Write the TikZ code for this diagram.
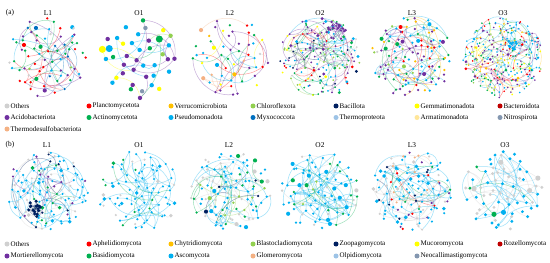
\documentclass[tikz,border=0pt]{standalone}
\usepackage{fontspec}
\setmainfont{Liberation Serif}
\pgfdeclarelayer{back}
\pgfdeclarelayer{edges}
\pgfsetlayers{back,edges,main}

\definecolor{cGray}{HTML}{D0D0D0}
\definecolor{cRed}{HTML}{FF0000}
\definecolor{cOrange}{HTML}{FFC000}
\definecolor{cLime}{HTML}{92D050}
\definecolor{cPurple}{HTML}{7030A0}
\definecolor{cGreen}{HTML}{00B050}
\definecolor{cSky}{HTML}{00B0F0}
\definecolor{cBlue}{HTML}{0070C0}
\definecolor{cPeach}{HTML}{F4B183}
\definecolor{cNavy}{HTML}{002060}
\definecolor{cYellow}{HTML}{FFFF00}
\definecolor{cDarkred}{HTML}{C00000}
\definecolor{cPale}{HTML}{9DC3E6}
\definecolor{cTan}{HTML}{FFE699}
\definecolor{cSlate}{HTML}{8497B0}

\tikzset{
  dot/.style={circle,inner sep=0pt,minimum size=#1,draw=none},
  link/.style={line width=0.75pt,opacity=0.38},
  keydot/.style={circle,inner sep=0pt,minimum size=2.5mm,draw=none},
  keytext/.style={anchor=west,inner sep=0pt,font=\fontsize{10}{12}\selectfont},
  title/.style={font=\fontsize{10.5}{12}\selectfont}
}

% #1 name, #2/#3 centre, #4 nodes, #5 colour list, #6 links, #7 tries, #8 size (mm)
\newcommand{\net}[8]{%
  \begin{scope}[shift={(#2,#3)}]
    \foreach \i in {1,...,#4}{
      \pgfmathsetmacro{\rr}{min(41,40*sqrt((\i-0.5)/#4)+1.5*rand)}
      \pgfmathsetmacro{\gg}{\i*0.381966}
      \pgfmathsetmacro{\aa}{360*(\gg-floor(\gg))+12*rand}
      \pgfmathsetmacro{\px}{\rr*cos(\aa)}
      \pgfmathsetmacro{\py}{\rr*sin(\aa)}
      \pgfmathsetmacro{\ss}{rnd<0.9 ? #8 : 1.6*#8}
      \pgfmathrandomitem{\cc}{#5}
      \expandafter\xdef\csname px#1-\i\endcsname{\px}
      \expandafter\xdef\csname py#1-\i\endcsname{\py}
      \expandafter\xdef\csname pc#1-\i\endcsname{\cc}
      \node[dot=\ss mm,fill=\cc] (#1-\i) at (\px,\py) {};
    }
  \end{scope}
  \begin{pgfonlayer}{edges}
    \foreach \j in {1,...,#6}{
      \pgfmathrandominteger{\ea}{1}{#4}
      \xdef\best{0}\xdef\bd{9999}
      \foreach \t in {1,...,#7}{
        \pgfmathrandominteger{\eb}{1}{#4}
        \ifnum\eb=\ea\else
          \edef\xa{\csname px#1-\ea\endcsname}\edef\xb{\csname px#1-\eb\endcsname}
          \edef\ya{\csname py#1-\ea\endcsname}\edef\yb{\csname py#1-\eb\endcsname}
          \pgfmathsetmacro{\dd}{veclen((\xa)-(\xb),(\ya)-(\yb))}
          \ifdim\dd pt<\bd pt\xdef\best{\eb}\xdef\bd{\dd}\fi
        \fi
      }
      \ifnum\best>0
        \pgfmathsetmacro{\bb}{(rnd<0.5?1:-1)*(25+25*rnd)}
        \edef\ec{\csname pc#1-\ea\endcsname}
        \draw[link,draw=\ec] (#1-\ea) to[bend left=\bb] (#1-\best);
      \fi
    }
  \end{pgfonlayer}
}

% dense module: #1 name, #2/#3 centre, #4 nodes, #5 colour, #6 radius, #7 links, #8 size
\newcommand{\hub}[8]{%
  \begin{scope}[shift={(#2,#3)}]
    \foreach \i in {1,...,#4}{
      \pgfmathsetmacro{\rr}{#6*sqrt(rnd)}
      \pgfmathsetmacro{\aa}{360*rnd}
      \node[dot=#8 mm,fill=#5] (#1-h\i) at (\aa:\rr) {};
    }
  \end{scope}
  \begin{pgfonlayer}{edges}
    \foreach \j in {1,...,#7}{
      \pgfmathrandominteger{\ea}{1}{#4}
      \pgfmathrandominteger{\eb}{1}{#4}
      \ifnum\ea=\eb\else
        \draw[link,draw=#5] (#1-h\ea) to[bend left=15] (#1-h\eb);
      \fi
    }
  \end{pgfonlayer}
}

\pgfmathdeclarerandomlist{aL1}{{cPurple}{cPurple}{cPurple}{cPurple}{cPurple}{cSky}{cSky}{cSky}{cSky}{cGreen}{cGreen}{cGreen}{cRed}{cRed}{cBlue}{cGray}{cLime}}
\pgfmathdeclarerandomlist{aO1}{{cPurple}{cPurple}{cPurple}{cPurple}{cSky}{cSky}{cSky}{cSky}{cSky}{cGreen}{cGreen}{cGreen}{cGreen}{cLime}{cLime}{cGray}{cGray}{cYellow}{cYellow}{cRed}{cSlate}}
\pgfmathdeclarerandomlist{aL2}{{cPurple}{cPurple}{cPurple}{cPurple}{cSky}{cSky}{cSky}{cSky}{cGreen}{cGreen}{cGreen}{cGray}{cYellow}{cRed}{cOrange}{cPeach}}
\pgfmathdeclarerandomlist{aO2}{{cPurple}{cPurple}{cPurple}{cSky}{cSky}{cSky}{cSky}{cGreen}{cGreen}{cGreen}{cLime}{cLime}{cYellow}{cRed}{cGray}{cNavy}}
\pgfmathdeclarerandomlist{aL3}{{cPurple}{cPurple}{cPurple}{cPurple}{cPurple}{cSky}{cSky}{cSky}{cSky}{cGreen}{cGreen}{cRed}{cGray}{cOrange}{cLime}}
\pgfmathdeclarerandomlist{aO3}{{cPurple}{cPurple}{cPurple}{cPurple}{cSky}{cSky}{cSky}{cSky}{cGreen}{cGreen}{cLime}{cRed}{cYellow}{cGray}{cOrange}}
\pgfmathdeclarerandomlist{bL1}{{cSky}{cSky}{cSky}{cSky}{cSky}{cSky}{cSky}{cSky}{cGray}{cGray}{cGray}{cNavy}{cGreen}{cPurple}}
\pgfmathdeclarerandomlist{bO1}{{cSky}{cSky}{cSky}{cSky}{cSky}{cSky}{cSky}{cSky}{cSky}{cSky}{cGray}{cGray}{cGreen}}
\pgfmathdeclarerandomlist{bL2}{{cSky}{cSky}{cSky}{cSky}{cSky}{cSky}{cGray}{cGray}{cGray}{cGray}{cGreen}{cGreen}{cNavy}{cLime}}
\pgfmathdeclarerandomlist{bO2}{{cSky}{cSky}{cSky}{cSky}{cSky}{cSky}{cSky}{cSky}{cGray}{cGray}{cGray}{cLime}{cGreen}}
\pgfmathdeclarerandomlist{bL3}{{cSky}{cSky}{cSky}{cSky}{cSky}{cSky}{cSky}{cGray}{cGray}{cGray}{cGray}{cNavy}{cGreen}{cPurple}{cRed}{cPeach}}
\pgfmathdeclarerandomlist{bO3}{{cSky}{cSky}{cSky}{cSky}{cSky}{cGray}{cGray}{cGray}{cGray}{cGray}{cGreen}}

\begin{document}
\begin{tikzpicture}[x=0.5mm,y=-0.5mm]
  \begin{pgfonlayer}{back}
    \fill[white] (0,0) rectangle (550,263);
  \end{pgfonlayer}
  \useasboundingbox (0,0) rectangle (550,263);
  \pgfmathsetseed{11}

  \node[title] (taga) at (10,13) {(a)};
  \node[title] (taL1) at (48,13) {L1};
  \node[title] (taO1) at (139,13) {O1};
  \node[title] (taL2) at (230,13) {L2};
  \node[title] (taO2) at (320,13) {O2};
  \node[title] (taL3) at (412,13) {L3};
  \node[title] (taO3) at (503,13) {O3};

  \net{aL1}{48}{57}{75}{aL1}{45}{1}{1.3}
  \net{aO1}{139}{57}{40}{aO1}{24}{1}{2.2}
  \net{aL2}{230}{57}{55}{aL2}{32}{1}{1.3}
  \net{aO2}{320}{57}{170}{aO2}{95}{3}{1.0}
  \hub{aO2}{336}{30}{22}{cPurple}{10}{35}{1.3}
  \net{aL3}{412}{57}{120}{aL3}{70}{2}{1.25}
  \net{aO3}{503}{57}{280}{aO3}{140}{5}{0.9}
  \hub{aO3}{512}{46}{10}{cSky}{6}{15}{1.4}

  \foreach \x/\y/\c/\t in {7/106/cGray/Others, 89/106/cRed/Planctomycetota,
    171/106/cOrange/Verrucomicrobiota, 253/106/cLime/Chloroflexota,
    336/106/cNavy/Bacillota, 417/106/cYellow/Gemmatimonadota,
    500/106/cDarkred/Bacteroidota,
    7/117.5/cPurple/Acidobacteriota, 89/117.5/cGreen/Actinomycetota,
    171/117.5/cSky/Pseudomonadota, 253/117.5/cBlue/Myxococcota,
    336/117.5/cPale/Thermoproteota, 417/117.5/cTan/Armatimonadota,
    500/117.5/cSlate/Nitrospirota,
    7/129/cPeach/Thermodesulfobacteriota}{
    \node[keydot,fill=\c] (ka-\t) at (\x,\y) {};
    \node[keytext] at (\x+3.5,\y) {\t};
  }

  \node[title] (tagb) at (10,145) {(b)};
  \node[title] (tbL1) at (47,145) {L1};
  \node[title] (tbO1) at (139,145) {O1};
  \node[title] (tbL2) at (229,145) {L2};
  \node[title] (tbO2) at (320,145) {O2};
  \node[title] (tbL3) at (412,145) {L3};
  \node[title] (tbO3) at (505,145) {O3};

  \net{bL1}{48}{191}{125}{bL1}{80}{2}{1.2}
  \hub{bL1}{34}{208}{16}{cNavy}{9}{30}{1.7}
  \net{bO1}{139}{191}{85}{bO1}{60}{2}{1.2}
  \net{bL2}{230}{191}{115}{bL2}{75}{2}{1.3}
  \net{bO2}{320}{191}{85}{bO2}{60}{1}{1.3}
  \net{bL3}{412}{191}{135}{bL3}{85}{2}{1.2}
  \net{bO3}{503}{191}{70}{bO3}{48}{1}{1.6}

  \foreach \x/\y/\c/\t in {7/244/cGray/Others, 89/244/cRed/Aphelidiomycota,
    171/244/cOrange/Chytridiomycota, 253/244/cLime/Blastocladiomycota,
    336/244/cNavy/Zoopagomycota, 417/244/cYellow/Mucoromycota,
    500/244/cDarkred/Rozellomycota,
    7/256/cPurple/Mortierellomycota, 89/256/cGreen/Basidiomycota,
    171/256/cSky/Ascomycota, 253/256/cPeach/Glomeromycota,
    336/256/cPale/Olpidiomycota, 417/256/cSlate/Neocallimastigomycota}{
    \node[keydot,fill=\c] (kb-\t) at (\x,\y) {};
    \node[keytext] at (\x+3.5,\y) {\t};
  }
\end{tikzpicture}
\end{document}
